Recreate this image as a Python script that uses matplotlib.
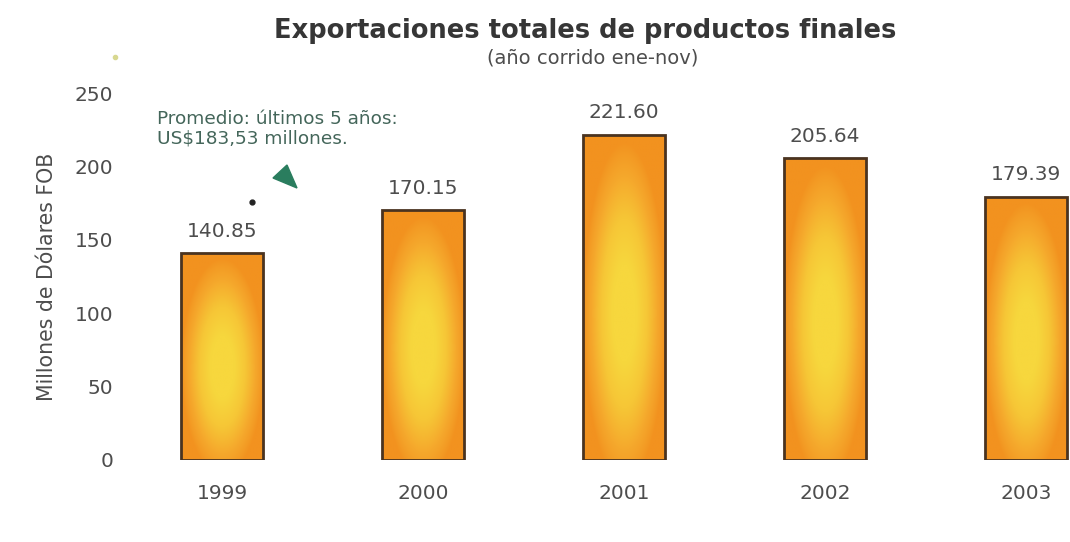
import numpy as np
import matplotlib
matplotlib.use("Agg")
import matplotlib.pyplot as plt
from matplotlib.colors import LinearSegmentedColormap
from matplotlib.patches import Rectangle, Polygon

# Exportaciones totales de productos finales, ene-nov (millones USD FOB)
years = ["1999", "2000", "2001", "2002", "2003"]
exports = [140.85, 170.15, 221.60, 205.64, 179.39]
value_labels = ["140.85", "170.15", "221.60", "205.64", "179.39"]
yticks = [0, 50, 100, 150, 200, 250]

TEXT = "#4d4d4d"
EDGE = "#4a3320"
bar_cmap = LinearSegmentedColormap.from_list(
    "bar_fill", ["#f2921f", "#f5a82c", "#f6c636", "#f7d73d"])

plt.rcParams["font.family"] = "DejaVu Sans"

fig = plt.figure(figsize=(10.7, 5.42), dpi=100)
ax = fig.add_axes([0.1136, 0.1513, 0.8864, 0.677])

x = np.arange(len(years))
width = 0.41
bars = ax.bar(x, exports, width=width, facecolor="none", edgecolor=EDGE,
              linewidth=2.0, zorder=3)

# elliptical yellow-to-orange fill inside each bar
gx = np.linspace(-1, 1, 80)
gy = np.linspace(-1, 1, 160)
XX, YY = np.meshgrid(gx, gy)
for rect in bars:
    x0, w, h = rect.get_x(), rect.get_width(), rect.get_height()
    r = np.sqrt((XX / 1.0) ** 2 + ((YY + 0.1) / 1.05) ** 2)
    shade = np.clip(1.0 - r, 0, 1) ** 0.85
    img = ax.imshow(shade, cmap=bar_cmap, vmin=0, vmax=0.75, origin="lower",
                    extent=(x0, x0 + w, 0, h), aspect="auto",
                    interpolation="bilinear", zorder=2)
    clip = Rectangle((x0, 0), w, h, transform=ax.transData)
    img.set_clip_path(clip)

for xi, val, lab in zip(x, exports, value_labels):
    ax.annotate(lab, (xi, val), xytext=(0, 12), textcoords="offset points",
                ha="center", va="baseline", fontsize=14.5, color=TEXT)

ax.set_xlim(-0.5, 4.22)
ax.set_ylim(0, 250)
ax.set_xticks(x)
ax.set_xticklabels(years, fontsize=14.5, color=TEXT)
ax.set_yticks(yticks)
ax.set_yticklabels([str(t) for t in yticks], fontsize=14.5, color=TEXT)
ax.tick_params(length=0, pad=6)
ax.tick_params(axis="x", pad=17)
for s in ax.spines.values():
    s.set_visible(False)
ax.set_ylabel("Millones de Dólares FOB", fontsize=14.8, color=TEXT,
              labelpad=13)

fig.text(0.547, 0.942, "Exportaciones totales de productos finales",
         ha="center", va="center", fontsize=18.5, fontweight="bold",
         color="#363636")
fig.text(0.554, 0.893, "(año corrido ene-nov)", ha="center", va="center",
         fontsize=14, color=TEXT)

# note on the five-year average
fig.text(0.147, 0.763, "Promedio: últimos 5 años:\nUS$183,53 millones.",
         ha="left", va="center", fontsize=13.3, color="#44665a",
         linespacing=1.1)
tri = [(273, 178), (287, 165), (297, 188)]
fig.patches.append(Polygon([(px / 1070, 1 - py / 542) for px, py in tri],
                           closed=True, facecolor="#2a7d5e",
                           edgecolor="#2a7d5e", transform=fig.transFigure))
fig.lines.append(plt.Line2D([252 / 1070], [1 - 202 / 542], marker="o",
                            markersize=3.5, color="#222222",
                            transform=fig.transFigure))
fig.lines.append(plt.Line2D([115 / 1070], [1 - 57 / 542], marker="o",
                            markersize=3, color="#d8d890",
                            transform=fig.transFigure))

fig.savefig("out.png", dpi=100)
